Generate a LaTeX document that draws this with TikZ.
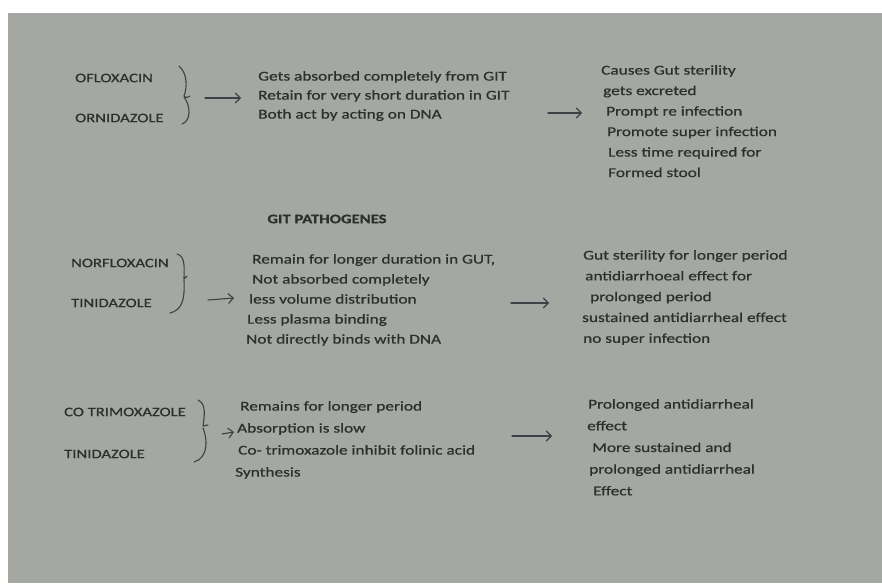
\documentclass[tikz,border=0pt]{standalone}
\usepackage{fontspec}
\setmainfont{Carlito}[FakeStretch=1.28,FakeBold=0.7]
\usetikzlibrary{arrows.meta}

\definecolor{page}{RGB}{165,167,162}
\definecolor{ink}{RGB}{45,47,45}
\definecolor{pencol}{RGB}{62,64,70}

\tikzset{
  drug/.style={anchor=west, inner sep=0pt, text=ink, font=\fontsize{13}{16}\selectfont},
  facts/.style={anchor=north west, inner sep=0pt, align=left, text=ink, font=\fontsize{13.5}{#1}\selectfont},
  facts/.default=20,
  heading/.style={inner sep=0pt, text=ink, font=\fontsize{13}{16}\selectfont\bfseries},
  penline/.style={draw=pencol, line width=1.1pt, line cap=round, line join=round},
  arr/.style={penline, -{Straight Barb[length=5pt,width=10pt]}}
}

\begin{document}
\begin{tikzpicture}[x=1pt,y=-1pt]
    \useasboundingbox (0,0) rectangle (882,583);
    %page
    \fill[white] (0,0) rectangle (882,583);
    \fill[page] (8,13) rectangle (882,583);

    %ofloxacin + ornidazole
    \node[drug] (oflox) at (75,78) {OFLOXACIN};
    \node[drug] (ornid) at (75,118) {ORNIDAZOLE};
    \draw[penline] (179,66) .. controls (188,74) and (187,88) .. (184,96) .. controls (186,98) .. (190,96);
    \draw[penline] (184,97) .. controls (191,106) and (191,121) .. (182,124);
    \coordinate (a1s) at (205,98);
    \coordinate (a1e) at (241,98);
    \draw[arr] (a1s) -- (a1e);
    \node[facts=19] (factsA) at (258,71) {Gets absorbed completely from GIT\\Retain for very short duration in GIT\\Both act by acting on DNA};
    \coordinate (a2s) at (548,113);
    \coordinate (a2e) at (582,113);
    \draw[arr] (a2s) -- (a2e);
    \node[facts=20.5] (resultA) at (601,65) {Causes Gut sterility\\\hspace*{2pt}gets excreted\\\hspace*{5pt}Prompt re infection\\\hspace*{6pt}Promote super infection\\\hspace*{7pt}Less time required for\\\hspace*{7pt}Formed stool};

    %heading
    \node[heading] (pathogenes) at (327,219) {GIT PATHOGENES};

    %norfloxacin + tinidazole
    \node[drug] (norflox) at (71,263) {NORFLOXACIN};
    \node[drug] (tinidB) at (71,303) {TINIDAZOLE};
    \draw[penline] (177,254) .. controls (186,256) and (184,270) .. (184,279) -- (187,276);
    \draw[penline] (184,280) .. controls (185,300) and (182,310) .. (170,313);
    \coordinate (b1s) at (208,300);
    \coordinate (b1e) at (234,298);
    \draw[arr] (b1s) -- (b1e);
    \node[facts=20] (factsB) at (246,254) {\hspace*{6pt}Remain for longer duration in GUT,\\\hspace*{6pt}Not absorbed completely\\\hspace*{3pt}less volume distribution\\\hspace*{1pt}Less plasma binding\\Not directly binds with DNA};
    \coordinate (b2s) at (511,303);
    \coordinate (b2e) at (549,303);
    \draw[arr] (b2s) -- (b2e);
    \node[facts=20.8] (resultB) at (582,250) {\hspace*{1pt}Gut sterility for longer period\\\hspace*{3pt}antidiarrhoeal effect for\\\hspace*{8pt}prolonged period\\sustained antidiarrheal effect\\\hspace*{1pt}no super infection};

    %co trimoxazole + tinidazole
    \node[drug] (cotrim) at (64,412) {CO TRIMOXAZOLE};
    \node[drug] (tinidC) at (64,454) {TINIDAZOLE};
    \draw[penline] (198,400) .. controls (207,404) and (204,418) .. (203,426) -- (208,425);
    \draw[penline] (203,428) .. controls (208,440) and (208,458) .. (194,462);
    \coordinate (c1s) at (222,434);
    \coordinate (c1e) at (234,432);
    \draw[arr] (c1s) -- (c1e);
    \node[facts=22] (factsC) at (235,401) {\hspace*{5pt}Remains for longer period\\\hspace*{2pt}Absorption is slow\\\hspace*{3pt}Co- trimoxazole inhibit folinic acid\\Synthesis};
    \coordinate (c2s) at (512,436);
    \coordinate (c2e) at (552,436);
    \draw[arr] (c2s) -- (c2e);
    \node[facts=21.7] (resultC) at (587,399) {\hspace*{1pt}Prolonged antidiarrheal\\effect\\\hspace*{5pt}More sustained and\\\hspace*{2pt}prolonged antidiarrheal\\\hspace*{6pt}Effect};
\end{tikzpicture}
\end{document}
